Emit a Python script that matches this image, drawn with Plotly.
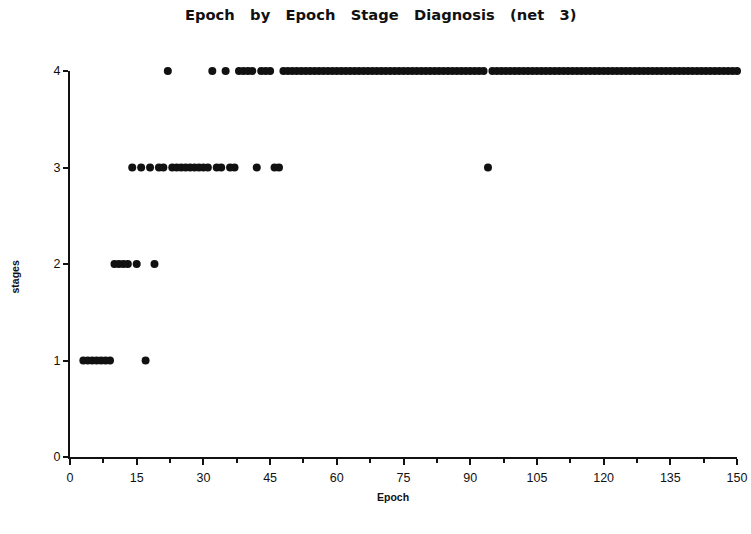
import plotly.graph_objects as go

# Epoch numbers diagnosed in each stage
stage1_epochs = [3, 4, 5, 6, 7, 8, 9, 17]
stage2_epochs = [10, 11, 12, 13, 15, 19]
stage3_epochs = [14, 16, 18, 20, 21, 23, 24, 25, 26, 27, 28, 29, 30, 31,
                 33, 34, 36, 37, 42, 46, 47, 94]
stage4_epochs = [22, 32, 35, 38, 39, 40, 41, 43, 44, 45] + \
    [e for e in range(48, 151) if e != 94]

stage_values = [1, 2, 3, 4]
x_tick_vals = [0, 15, 30, 45, 60, 75, 90, 105, 120, 135, 150]
x_tick_text = ["0", "15", "30", "45", "60", "75", "90", "105", "120", "135", "150"]
y_tick_vals = [0, 1, 2, 3, 4]

epochs = []
stages = []
for s, ep in zip(stage_values, [stage1_epochs, stage2_epochs, stage3_epochs, stage4_epochs]):
    epochs += ep
    stages += [s] * len(ep)

INK = "#111111"

fig = go.Figure()
fig.add_trace(go.Scatter(
    x=epochs, y=stages, mode="markers",
    marker=dict(symbol="circle", size=8, color=INK, line=dict(width=0)),
    cliponaxis=False, showlegend=False,
))

fig.update_layout(
    template="none",
    width=751, height=534,
    paper_bgcolor="white", plot_bgcolor="white",
    margin=dict(l=70, r=14, t=71, b=77),
    title=dict(text="Epoch   by   Epoch   Stage   Diagnosis   (net   3)",
               x=0.507, xanchor="center", y=0.972, yanchor="middle",
               font=dict(family="DejaVu Sans", size=14.7, color=INK, weight="bold")),
    font=dict(family="Liberation Sans", color=INK),
    annotations=[
        dict(text="<b>Epoch</b>", xref="paper", yref="paper", x=0.484, y=0,
             xanchor="center", yanchor="top", yshift=-32, showarrow=False,
             font=dict(size=10.5, family="Liberation Sans", color=INK)),
        dict(text="<b>stages</b>", xref="paper", yref="paper", x=0, y=0.465,
             xanchor="center", yanchor="middle", xshift=-55, textangle=-90,
             showarrow=False,
             font=dict(size=10.5, family="Liberation Sans", color=INK)),
    ],
)
fig.update_xaxes(
    range=[0, 150], tickvals=x_tick_vals, ticktext=x_tick_text,
    showgrid=False, zeroline=False,
    showline=True, linecolor=INK, linewidth=2,
    ticks="outside", ticklen=6, tickwidth=2, tickcolor=INK,
    minor=dict(tickvals=[7.5 + 15 * i for i in range(10)], ticks="outside",
               ticklen=4, tickwidth=2, tickcolor=INK, showgrid=False),
    tickfont=dict(size=12.5, family="Liberation Sans", color=INK),
    ticklabelstandoff=2,
)
fig.update_yaxes(
    range=[0, 4], tickvals=y_tick_vals,
    showgrid=False, zeroline=False,
    showline=True, linecolor=INK, linewidth=2,
    ticks="outside", ticklen=5, tickwidth=2, tickcolor=INK,
    tickfont=dict(size=12.5, family="Liberation Sans", color=INK),
)

fig.write_html("out.html", config={"displayModeBar": False},
               post_script="document.body.style.margin='0';")
